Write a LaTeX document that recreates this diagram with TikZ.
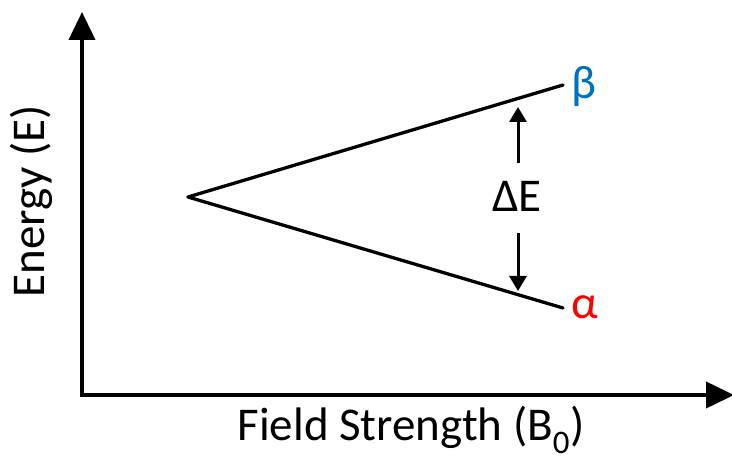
\documentclass[tikz,border=0pt]{standalone}
\usepackage{fontspec}
\setmainfont{Carlito}
\usetikzlibrary{arrows.meta}
\definecolor{betablue}{RGB}{0,112,192}
\definecolor{alphared}{RGB}{255,0,0}
\begin{document}
\begin{tikzpicture}[x=1pt,y=-1pt,
  axis/.style={line width=4pt,-{Triangle[length=28pt,width=26pt]}},
  level/.style={line width=3.3pt,line cap=round},
  gap/.style={line width=3pt,-{Triangle[length=15pt,width=17pt]}},
  lbl/.style={font=\fontsize{47}{47}\selectfont,inner sep=0pt}]
\useasboundingbox (0,0) rectangle (732,457);
% axes
\coordinate (o) at (82,395);
\coordinate (ytop) at (82,12);
\coordinate (xend) at (734,395);
\draw[axis] ([yshift=2pt]o) -- (ytop);
\draw[axis] ([xshift=-2pt]o) -- (xend);
% energy levels
\coordinate (v) at (188,197);
\coordinate (b) at (563,85);
\coordinate (a) at (563,308);
\draw[level] (v) -- (b);
\draw[level] (v) -- (a);
% labels
\node[lbl,text=betablue,anchor=base west] (beta) at (571,99) {β};
\node[lbl,text=alphared,anchor=base west] (alpha) at (571,319) {α};
\node[lbl,anchor=base] (de) at (517,212) {ΔE};
\coordinate (up0) at (518,163);
\coordinate (up1) at (518,107);
\coordinate (dn0) at (518,233);
\coordinate (dn1) at (518,291);
\draw[gap] (up0) -- (up1);
\draw[gap] (dn0) -- (dn1);
\node[lbl,rotate=90,anchor=base] (ylab) at (44,201) {Energy (E)};
\node[lbl,anchor=base] (xlab) at (411,441) {Field Strength (B\textsubscript{0})};
\end{tikzpicture}
\end{document}
